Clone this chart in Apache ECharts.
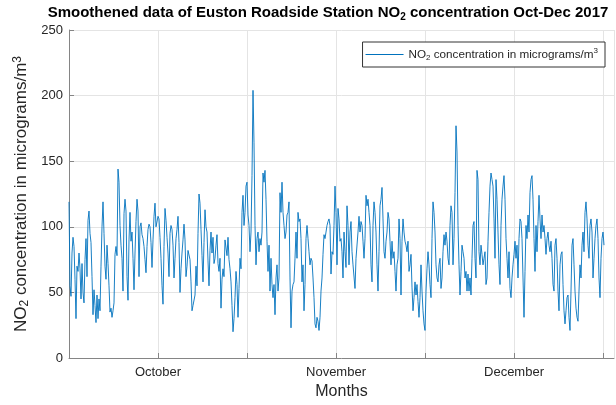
<!DOCTYPE html>
<html>
<head>
<meta charset="utf-8">
<script src="https://cdn.jsdelivr.net/npm/echarts@6/dist/echarts.min.js"></script>
<style>html,body{margin:0;padding:0;background:#fff;}#c{width:616px;height:405px;}</style>
</head>
<body>
<div id="c"></div>
<script>
// Smoothed NO2 readings (micrograms/m3), one sample every 4 hours
const sampleStepHours = 4;
const octValues = [
119,55,47,80,92,85,60,30,70,66,
80,68,45,72,50,42,75,91,62,105,
112,95,88,62,33,52,40,27,48,30,
45,36,70,100,119,95,70,60,86,72,
55,35,38,31,36,42,79,85,78,144,
134,101,86,76,51,110,121,112,62,44,
90,111,89,96,76,52,80,104,121,112,
62,100,103,94,91,85,
75,65,85,98,102,100,88,69,90,108,
118,100,101,108,106,92,76,55,41,85,
114,105,92,80,62,95,101,98,86,61,
76,91,98,108,88,50,68,80,90,102,
90,62,70,82,82,75,58,36,40,40,
48,70,55,95,125,118,98,78,58,88,
113,100,96,74,55,82,96,80,92,72,
76,86,94,72,66,76,38,60,68,62,
90,91,78,92,75,68,58,40,20,30,
46,66,56,31,53,76,68,111,124,101,
111,131,134,109,101,81,96,139
];
const novValues = [
204,164,101,71,91,96,81,91,86,96,
141,134,143,121,89,66,86,51,76,56,
46,56,33,61,71,51,61,126,111,134,
111,101,91,96,109,111,119,61,23,51,
56,58,76,96,76,111,104,106,91,58,
71,36,56,91,101,91,81,71,76,74,
61,46,26,23,31,28,21,31,51,61,
79,94,
91,96,101,104,106,101,64,81,79,101,
131,111,71,114,106,89,91,81,61,96,
81,69,116,101,71,96,104,81,71,71,
53,76,76,96,108,96,104,101,89,76,
91,124,116,121,111,101,71,58,101,119,
111,96,71,51,81,116,121,130,106,81,
76,89,96,111,106,89,71,89,76,81,
66,51,71,76,106,91,48,89,106,96,
89,86,81,89,66,71,79,54,36,46,
58,48,56,43,31,46,71,51,36,26,
21,51,68,81,71
];
const decValues = [
56,46,91,119,111,96,71,61,58,71,
76,53,61,81,94,86,96,89,76,71,
101,116,111,71,91,126,177,157,101,71,
48,66,86,81,76,61,66,51,64,51,
61,48,76,101,104,76,61,143,136,81,
71,86,79,71,76,81,56,61,89,111,
131,141,136,131,106,76,136,121,96,71,
56,101,121,131,139,
121,91,76,61,81,53,46,61,71,79,
89,76,86,61,91,106,104,91,61,31,
66,101,91,109,96,126,136,139,121,91,
66,101,81,104,124,106,91,109,96,101,
91,79,91,96,86,81,89,76,56,51,
86,91,76,51,36,71,79,81,56,36,
26,36,46,48,31,21,51,86,91,71,
51,38,31,28,51,71,61,86,96,81,
111,119,106,86,76,101,106,96,61,76,
91,101,106,91,61,46,76,91,96,86
];
const monthLabels = ['October', 'November', 'December'];
const monthLabelTicks = [1, 3, 5];      // tick numbers carrying month names
const xTickHours = 356;                  // x tick spacing in hours
const xMaxHours = 2180;
const yTicks = [0, 50, 100, 150, 200, 250];

const values = octValues.concat(novValues, decValues);
const seriesData = values.map((v, i) => [i * sampleStepHours, v]);

const FONT = '"Liberation Sans", Arial, Helvetica, sans-serif';
const TXT = '#262626';
const GRID = '#e4e4e4';
const AX = '#858585';
const LINE = '#0072BD';

const chart = echarts.init(document.getElementById('c'), null, {renderer: 'canvas'});
chart.setOption({
  animation: false,
  backgroundColor: '#fff',
  textStyle: {fontFamily: FONT},
  graphic: [{
    type: 'text',
    x: 328, y: 13,
    style: {
      text: '{t|Smoothened data of Euston Roadside Station NO}{s|2}{t| concentration Oct-Dec 2017}',
      align: 'center', verticalAlign: 'middle',
      rich: {
        t: {fontSize: 15, fontWeight: 'bold', fontFamily: FONT, fill: '#000', lineHeight: 18},
        s: {fontSize: 10, fontWeight: 'bold', fontFamily: FONT, fill: '#000', lineHeight: 11, verticalAlign: 'bottom'}
      }
    }
  }],
  grid: {left: 69, right: 2, top: 30, bottom: 42, containLabel: false},
  legend: {
    right: 11, top: 42,
    padding: [5, 7, 5, 3],
    icon: 'rect',
    itemWidth: 38, itemHeight: 1,
    itemStyle: {color: LINE},
    backgroundColor: '#fff',
    borderColor: '#333', borderWidth: 1, borderRadius: 0,
    formatter: () => 'NO{sub|2} concentration in micrograms/m{sup|3}',
    textStyle: {
      fontSize: 11.7, color: TXT, fontFamily: FONT, lineHeight: 15,
      rich: {
        sub: {fontSize: 8, fontFamily: FONT, color: TXT, lineHeight: 9, verticalAlign: 'bottom'},
        sup: {fontSize: 8, fontFamily: FONT, color: TXT, lineHeight: 9, verticalAlign: 'top'}
      }
    }
  },
  xAxis: {
    type: 'value', min: 0, max: xMaxHours, interval: xTickHours,
    name: 'Months', nameLocation: 'middle', nameGap: 26,
    nameTextStyle: {fontSize: 16, color: TXT, fontFamily: FONT},
    axisLine: {show: true, lineStyle: {color: AX, width: 1}},
    axisTick: {show: true, inside: true, length: 5, lineStyle: {color: AX}},
    axisLabel: {
      margin: 8, fontSize: 13, color: TXT, fontFamily: FONT,
      showMinLabel: true, showMaxLabel: false,
      formatter: v => {
        const k = monthLabelTicks.indexOf(Math.round(v / xTickHours));
        return k >= 0 ? monthLabels[k] : '';
      }
    },
    splitLine: {show: true, lineStyle: {color: GRID, width: 1}}
  },
  yAxis: {
    type: 'value', min: yTicks[0], max: yTicks[yTicks.length - 1], interval: yTicks[1] - yTicks[0],
    name: 'NO{sub|2} concentration in micrograms/m{sup|3}',
    nameLocation: 'middle', nameGap: 36, nameRotate: 90,
    nameTextStyle: {
      fontSize: 17, color: TXT, fontFamily: FONT, lineHeight: 19,
      rich: {
        sub: {fontSize: 12, fontFamily: FONT, color: TXT, lineHeight: 12, verticalAlign: 'bottom'},
        sup: {fontSize: 12, fontFamily: FONT, color: TXT, lineHeight: 12, verticalAlign: 'top'}
      }
    },
    axisLine: {show: true, lineStyle: {color: AX, width: 1}},
    axisTick: {show: true, inside: true, length: 5, lineStyle: {color: AX}},
    axisLabel: {margin: 6, fontSize: 13, color: TXT, fontFamily: FONT},
    splitLine: {show: true, lineStyle: {color: GRID, width: 1}}
  },
  series: [{
    name: 'NO2',
    type: 'line',
    data: seriesData,
    symbol: 'none',
    showSymbol: false,
    lineStyle: {color: LINE, width: 0.9},
    itemStyle: {color: LINE},
    clip: true
  }]
});
</script>
</body>
</html>
